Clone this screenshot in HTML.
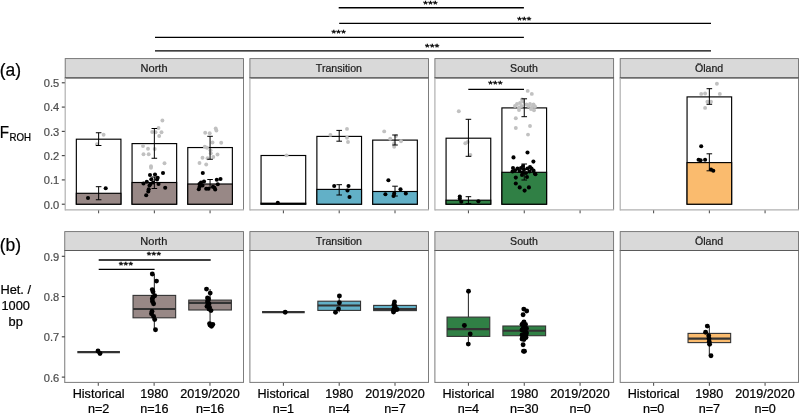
<!DOCTYPE html>
<html lang="en"><head><meta charset="utf-8"><title>Figure</title>
<style>html,body{margin:0;padding:0;background:#fff}body{width:800px;height:414px;overflow:hidden}svg{display:block;will-change:transform}</style>
</head><body>
<svg width="800" height="414" viewBox="0 0 800 414" font-family='"Liberation Sans", sans-serif'>
<rect width="800" height="414" fill="#fff"/>
<line x1="338.70" y1="7.70" x2="523.90" y2="7.70" stroke="#000" stroke-width="1.4" />
<text transform="translate(430.60 7.32) scale(1 0.8)" font-size="11.8" text-anchor="middle" letter-spacing="0.25" stroke="#000" stroke-width="0.45">***</text>
<line x1="339.20" y1="23.40" x2="711.00" y2="23.40" stroke="#000" stroke-width="1.4" />
<text transform="translate(524.40 23.02) scale(1 0.8)" font-size="11.8" text-anchor="middle" letter-spacing="0.25" stroke="#000" stroke-width="0.45">***</text>
<line x1="155.00" y1="37.40" x2="523.90" y2="37.40" stroke="#000" stroke-width="1.4" />
<text transform="translate(338.75 36.32) scale(1 0.8)" font-size="11.8" text-anchor="middle" letter-spacing="0.25" stroke="#000" stroke-width="0.45">***</text>
<line x1="155.00" y1="50.90" x2="711.00" y2="50.90" stroke="#000" stroke-width="1.4" />
<text transform="translate(432.30 49.62) scale(1 0.8)" font-size="11.8" text-anchor="middle" letter-spacing="0.25" stroke="#000" stroke-width="0.45">***</text>
<text x="-0.30" y="75.60" font-size="17.5" fill="#000" text-anchor="start" stroke="#000" stroke-width="0.2">(a)</text>
<text x="-0.30" y="251.30" font-size="17.5" fill="#000" text-anchor="start" stroke="#000" stroke-width="0.2">(b)</text>
<text transform="translate(-0.3 137.5) scale(1 1.045)" font-size="15.2" fill="#000" stroke="#000" stroke-width="0.22">F<tspan font-size="9.7" dy="3.6" dx="0.4">ROH</tspan></text>
<text x="15.70" y="294.30" font-size="12.8" fill="#000" text-anchor="middle" stroke="#000" stroke-width="0.22">Het. /</text>
<text x="15.70" y="310.10" font-size="12.8" fill="#000" text-anchor="middle" stroke="#000" stroke-width="0.22">1000</text>
<text x="15.70" y="325.90" font-size="12.8" fill="#000" text-anchor="middle" stroke="#000" stroke-width="0.22">bp</text>
<rect x="65.20" y="58.60" width="178.30" height="19.30" fill="#d9d9d9" stroke="#6e6e6e" stroke-width="0.9"/>
<line x1="64.75" y1="77.90" x2="243.95" y2="77.90" stroke="#5a5a5a" stroke-width="1.2" />
<line x1="243.50" y1="77.90" x2="243.50" y2="209.90" stroke="#6e6e6e" stroke-width="0.9" />
<line x1="65.20" y1="77.90" x2="65.20" y2="210.50" stroke="#b0b0b0" stroke-width="1.2" />
<line x1="65.20" y1="209.90" x2="243.95" y2="209.90" stroke="#b0b0b0" stroke-width="1.2" />
<text transform="translate(154.05 71.70) scale(1.04 1)" font-size="10.6" fill="#1a1a1a" text-anchor="middle" stroke="#1a1a1a" stroke-width="0.2">North</text>
<line x1="98.63" y1="210.40" x2="98.63" y2="213.30" stroke="#444" stroke-width="1.0" />
<line x1="154.35" y1="210.40" x2="154.35" y2="213.30" stroke="#444" stroke-width="1.0" />
<line x1="210.07" y1="210.40" x2="210.07" y2="213.30" stroke="#444" stroke-width="1.0" />
<rect x="64.75" y="231.60" width="178.75" height="18.90" fill="#d9d9d9" stroke="#6e6e6e" stroke-width="0.9"/>
<line x1="64.30" y1="250.50" x2="243.95" y2="250.50" stroke="#5a5a5a" stroke-width="1.2" />
<line x1="243.50" y1="250.50" x2="243.50" y2="382.40" stroke="#6e6e6e" stroke-width="0.9" />
<line x1="64.75" y1="250.50" x2="64.75" y2="382.90" stroke="#7a7a7a" stroke-width="1.0" />
<line x1="64.75" y1="382.40" x2="243.95" y2="382.40" stroke="#7a7a7a" stroke-width="1.0" />
<text transform="translate(153.82 244.50) scale(1.04 1)" font-size="10.6" fill="#1a1a1a" text-anchor="middle" stroke="#1a1a1a" stroke-width="0.2">North</text>
<line x1="98.27" y1="382.90" x2="98.27" y2="385.80" stroke="#444" stroke-width="1.0" />
<line x1="154.12" y1="382.90" x2="154.12" y2="385.80" stroke="#444" stroke-width="1.0" />
<line x1="209.98" y1="382.90" x2="209.98" y2="385.80" stroke="#444" stroke-width="1.0" />
<rect x="249.90" y="58.60" width="178.60" height="19.30" fill="#d9d9d9" stroke="#6e6e6e" stroke-width="0.9"/>
<line x1="249.45" y1="77.90" x2="428.95" y2="77.90" stroke="#5a5a5a" stroke-width="1.2" />
<line x1="428.50" y1="77.90" x2="428.50" y2="209.90" stroke="#6e6e6e" stroke-width="0.9" />
<line x1="249.90" y1="77.90" x2="249.90" y2="210.50" stroke="#b0b0b0" stroke-width="1.2" />
<line x1="249.90" y1="209.90" x2="428.95" y2="209.90" stroke="#b0b0b0" stroke-width="1.2" />
<text transform="translate(338.90 71.70) scale(1.0 1)" font-size="10.6" fill="#1a1a1a" text-anchor="middle" stroke="#1a1a1a" stroke-width="0.2">Transition</text>
<line x1="283.39" y1="210.40" x2="283.39" y2="213.30" stroke="#444" stroke-width="1.0" />
<line x1="339.20" y1="210.40" x2="339.20" y2="213.30" stroke="#444" stroke-width="1.0" />
<line x1="395.01" y1="210.40" x2="395.01" y2="213.30" stroke="#444" stroke-width="1.0" />
<rect x="249.90" y="231.60" width="178.60" height="18.90" fill="#d9d9d9" stroke="#6e6e6e" stroke-width="0.9"/>
<line x1="249.45" y1="250.50" x2="428.95" y2="250.50" stroke="#5a5a5a" stroke-width="1.2" />
<line x1="428.50" y1="250.50" x2="428.50" y2="382.40" stroke="#6e6e6e" stroke-width="0.9" />
<line x1="249.90" y1="250.50" x2="249.90" y2="382.90" stroke="#7a7a7a" stroke-width="1.0" />
<line x1="249.90" y1="382.40" x2="428.95" y2="382.40" stroke="#7a7a7a" stroke-width="1.0" />
<text transform="translate(338.90 244.50) scale(1.0 1)" font-size="10.6" fill="#1a1a1a" text-anchor="middle" stroke="#1a1a1a" stroke-width="0.2">Transition</text>
<line x1="283.39" y1="382.90" x2="283.39" y2="385.80" stroke="#444" stroke-width="1.0" />
<line x1="339.20" y1="382.90" x2="339.20" y2="385.80" stroke="#444" stroke-width="1.0" />
<line x1="395.01" y1="382.90" x2="395.01" y2="385.80" stroke="#444" stroke-width="1.0" />
<rect x="434.90" y="58.60" width="178.70" height="19.30" fill="#d9d9d9" stroke="#6e6e6e" stroke-width="0.9"/>
<line x1="434.45" y1="77.90" x2="614.05" y2="77.90" stroke="#5a5a5a" stroke-width="1.2" />
<line x1="613.60" y1="77.90" x2="613.60" y2="209.90" stroke="#6e6e6e" stroke-width="0.9" />
<line x1="434.90" y1="77.90" x2="434.90" y2="210.50" stroke="#b0b0b0" stroke-width="1.2" />
<line x1="434.90" y1="209.90" x2="614.05" y2="209.90" stroke="#b0b0b0" stroke-width="1.2" />
<text transform="translate(523.95 71.70) scale(1.0 1)" font-size="10.6" fill="#1a1a1a" text-anchor="middle" stroke="#1a1a1a" stroke-width="0.2">South</text>
<line x1="468.41" y1="210.40" x2="468.41" y2="213.30" stroke="#444" stroke-width="1.0" />
<line x1="524.25" y1="210.40" x2="524.25" y2="213.30" stroke="#444" stroke-width="1.0" />
<line x1="580.09" y1="210.40" x2="580.09" y2="213.30" stroke="#444" stroke-width="1.0" />
<rect x="434.90" y="231.60" width="178.70" height="18.90" fill="#d9d9d9" stroke="#6e6e6e" stroke-width="0.9"/>
<line x1="434.45" y1="250.50" x2="614.05" y2="250.50" stroke="#5a5a5a" stroke-width="1.2" />
<line x1="613.60" y1="250.50" x2="613.60" y2="382.40" stroke="#6e6e6e" stroke-width="0.9" />
<line x1="434.90" y1="250.50" x2="434.90" y2="382.90" stroke="#7a7a7a" stroke-width="1.0" />
<line x1="434.90" y1="382.40" x2="614.05" y2="382.40" stroke="#7a7a7a" stroke-width="1.0" />
<text transform="translate(523.95 244.50) scale(1.0 1)" font-size="10.6" fill="#1a1a1a" text-anchor="middle" stroke="#1a1a1a" stroke-width="0.2">South</text>
<line x1="468.41" y1="382.90" x2="468.41" y2="385.80" stroke="#444" stroke-width="1.0" />
<line x1="524.25" y1="382.90" x2="524.25" y2="385.80" stroke="#444" stroke-width="1.0" />
<line x1="580.09" y1="382.90" x2="580.09" y2="385.80" stroke="#444" stroke-width="1.0" />
<rect x="620.20" y="58.60" width="178.30" height="19.30" fill="#d9d9d9" stroke="#6e6e6e" stroke-width="0.9"/>
<line x1="619.75" y1="77.90" x2="798.95" y2="77.90" stroke="#5a5a5a" stroke-width="1.2" />
<line x1="798.50" y1="77.90" x2="798.50" y2="209.90" stroke="#6e6e6e" stroke-width="0.9" />
<line x1="620.20" y1="77.90" x2="620.20" y2="210.50" stroke="#b0b0b0" stroke-width="1.2" />
<line x1="620.20" y1="209.90" x2="798.95" y2="209.90" stroke="#b0b0b0" stroke-width="1.2" />
<text transform="translate(709.05 71.70) scale(1.0 1)" font-size="10.6" fill="#1a1a1a" text-anchor="middle" stroke="#1a1a1a" stroke-width="0.2">Öland</text>
<line x1="653.63" y1="210.40" x2="653.63" y2="213.30" stroke="#444" stroke-width="1.0" />
<line x1="709.35" y1="210.40" x2="709.35" y2="213.30" stroke="#444" stroke-width="1.0" />
<line x1="765.07" y1="210.40" x2="765.07" y2="213.30" stroke="#444" stroke-width="1.0" />
<rect x="620.20" y="231.60" width="178.30" height="18.90" fill="#d9d9d9" stroke="#6e6e6e" stroke-width="0.9"/>
<line x1="619.75" y1="250.50" x2="798.95" y2="250.50" stroke="#5a5a5a" stroke-width="1.2" />
<line x1="798.50" y1="250.50" x2="798.50" y2="382.40" stroke="#6e6e6e" stroke-width="0.9" />
<line x1="620.20" y1="250.50" x2="620.20" y2="382.90" stroke="#7a7a7a" stroke-width="1.0" />
<line x1="620.20" y1="382.40" x2="798.95" y2="382.40" stroke="#7a7a7a" stroke-width="1.0" />
<text transform="translate(709.05 244.50) scale(1.0 1)" font-size="10.6" fill="#1a1a1a" text-anchor="middle" stroke="#1a1a1a" stroke-width="0.2">Öland</text>
<line x1="653.63" y1="382.90" x2="653.63" y2="385.80" stroke="#444" stroke-width="1.0" />
<line x1="709.35" y1="382.90" x2="709.35" y2="385.80" stroke="#444" stroke-width="1.0" />
<line x1="765.07" y1="382.90" x2="765.07" y2="385.80" stroke="#444" stroke-width="1.0" />
<line x1="61.80" y1="204.20" x2="64.80" y2="204.20" stroke="#333" stroke-width="1.05" />
<text transform="translate(59.3 208.60) scale(1.09 1)" font-size="10.2" fill="#4d4d4d" stroke="#4d4d4d" stroke-width="0.2" text-anchor="end">0.0</text>
<line x1="61.80" y1="179.92" x2="64.80" y2="179.92" stroke="#333" stroke-width="1.05" />
<text transform="translate(59.3 184.32) scale(1.09 1)" font-size="10.2" fill="#4d4d4d" stroke="#4d4d4d" stroke-width="0.2" text-anchor="end">0.1</text>
<line x1="61.80" y1="155.64" x2="64.80" y2="155.64" stroke="#333" stroke-width="1.05" />
<text transform="translate(59.3 160.04) scale(1.09 1)" font-size="10.2" fill="#4d4d4d" stroke="#4d4d4d" stroke-width="0.2" text-anchor="end">0.2</text>
<line x1="61.80" y1="131.36" x2="64.80" y2="131.36" stroke="#333" stroke-width="1.05" />
<text transform="translate(59.3 135.76) scale(1.09 1)" font-size="10.2" fill="#4d4d4d" stroke="#4d4d4d" stroke-width="0.2" text-anchor="end">0.3</text>
<line x1="61.80" y1="107.08" x2="64.80" y2="107.08" stroke="#333" stroke-width="1.05" />
<text transform="translate(59.3 111.48) scale(1.09 1)" font-size="10.2" fill="#4d4d4d" stroke="#4d4d4d" stroke-width="0.2" text-anchor="end">0.4</text>
<line x1="61.80" y1="82.80" x2="64.80" y2="82.80" stroke="#333" stroke-width="1.05" />
<text transform="translate(59.3 87.20) scale(1.09 1)" font-size="10.2" fill="#4d4d4d" stroke="#4d4d4d" stroke-width="0.2" text-anchor="end">0.5</text>
<line x1="61.80" y1="377.10" x2="64.80" y2="377.10" stroke="#333" stroke-width="1.05" />
<text transform="translate(59.3 381.50) scale(1.09 1)" font-size="10.2" fill="#4d4d4d" stroke="#4d4d4d" stroke-width="0.2" text-anchor="end">0.6</text>
<line x1="61.80" y1="336.83" x2="64.80" y2="336.83" stroke="#333" stroke-width="1.05" />
<text transform="translate(59.3 341.23) scale(1.09 1)" font-size="10.2" fill="#4d4d4d" stroke="#4d4d4d" stroke-width="0.2" text-anchor="end">0.7</text>
<line x1="61.80" y1="296.56" x2="64.80" y2="296.56" stroke="#333" stroke-width="1.05" />
<text transform="translate(59.3 300.96) scale(1.09 1)" font-size="10.2" fill="#4d4d4d" stroke="#4d4d4d" stroke-width="0.2" text-anchor="end">0.8</text>
<line x1="61.80" y1="256.29" x2="64.80" y2="256.29" stroke="#333" stroke-width="1.05" />
<text transform="translate(59.3 260.69) scale(1.09 1)" font-size="10.2" fill="#4d4d4d" stroke="#4d4d4d" stroke-width="0.2" text-anchor="end">0.9</text>
<text x="98.63" y="397.70" font-size="12.6" fill="#000" text-anchor="middle" stroke="#000" stroke-width="0.22">Historical</text>
<text x="98.63" y="412.50" font-size="12.6" fill="#000" text-anchor="middle" stroke="#000" stroke-width="0.22">n=2</text>
<text x="154.35" y="397.70" font-size="12.6" fill="#000" text-anchor="middle" stroke="#000" stroke-width="0.22">1980</text>
<text x="154.35" y="412.50" font-size="12.6" fill="#000" text-anchor="middle" stroke="#000" stroke-width="0.22">n=16</text>
<text x="210.07" y="397.70" font-size="12.6" fill="#000" text-anchor="middle" stroke="#000" stroke-width="0.22">2019/2020</text>
<text x="210.07" y="412.50" font-size="12.6" fill="#000" text-anchor="middle" stroke="#000" stroke-width="0.22">n=16</text>
<text x="283.39" y="397.70" font-size="12.6" fill="#000" text-anchor="middle" stroke="#000" stroke-width="0.22">Historical</text>
<text x="283.39" y="412.50" font-size="12.6" fill="#000" text-anchor="middle" stroke="#000" stroke-width="0.22">n=1</text>
<text x="339.20" y="397.70" font-size="12.6" fill="#000" text-anchor="middle" stroke="#000" stroke-width="0.22">1980</text>
<text x="339.20" y="412.50" font-size="12.6" fill="#000" text-anchor="middle" stroke="#000" stroke-width="0.22">n=4</text>
<text x="395.01" y="397.70" font-size="12.6" fill="#000" text-anchor="middle" stroke="#000" stroke-width="0.22">2019/2020</text>
<text x="395.01" y="412.50" font-size="12.6" fill="#000" text-anchor="middle" stroke="#000" stroke-width="0.22">n=7</text>
<text x="468.41" y="397.70" font-size="12.6" fill="#000" text-anchor="middle" stroke="#000" stroke-width="0.22">Historical</text>
<text x="468.41" y="412.50" font-size="12.6" fill="#000" text-anchor="middle" stroke="#000" stroke-width="0.22">n=4</text>
<text x="524.25" y="397.70" font-size="12.6" fill="#000" text-anchor="middle" stroke="#000" stroke-width="0.22">1980</text>
<text x="524.25" y="412.50" font-size="12.6" fill="#000" text-anchor="middle" stroke="#000" stroke-width="0.22">n=30</text>
<text x="580.09" y="397.70" font-size="12.6" fill="#000" text-anchor="middle" stroke="#000" stroke-width="0.22">2019/2020</text>
<text x="580.09" y="412.50" font-size="12.6" fill="#000" text-anchor="middle" stroke="#000" stroke-width="0.22">n=0</text>
<text x="653.63" y="397.70" font-size="12.6" fill="#000" text-anchor="middle" stroke="#000" stroke-width="0.22">Historical</text>
<text x="653.63" y="412.50" font-size="12.6" fill="#000" text-anchor="middle" stroke="#000" stroke-width="0.22">n=0</text>
<text x="709.35" y="397.70" font-size="12.6" fill="#000" text-anchor="middle" stroke="#000" stroke-width="0.22">1980</text>
<text x="709.35" y="412.50" font-size="12.6" fill="#000" text-anchor="middle" stroke="#000" stroke-width="0.22">n=7</text>
<text x="765.07" y="397.70" font-size="12.6" fill="#000" text-anchor="middle" stroke="#000" stroke-width="0.22">2019/2020</text>
<text x="765.07" y="412.50" font-size="12.6" fill="#000" text-anchor="middle" stroke="#000" stroke-width="0.22">n=0</text>
<rect x="76.34" y="139.20" width="44.58" height="65.00" fill="#fff" stroke="#000" stroke-width="1.15"/>
<rect x="76.34" y="193.30" width="44.58" height="10.90" fill="#988886" stroke="#000" stroke-width="1.15"/>
<circle cx="103.6" cy="134.7" r="1.95" fill="#c1c1c1"/>
<circle cx="97.0" cy="144.3" r="1.95" fill="#c1c1c1"/>
<circle cx="88.0" cy="198.0" r="2.05" fill="#000"/>
<circle cx="105.7" cy="188.2" r="2.05" fill="#000"/>
<line x1="98.63" y1="132.75" x2="98.63" y2="145.50" stroke="#000" stroke-width="1.0" />
<line x1="95.83" y1="132.75" x2="101.43" y2="132.75" stroke="#000" stroke-width="1.0" />
<line x1="95.83" y1="145.50" x2="101.43" y2="145.50" stroke="#000" stroke-width="1.0" />
<line x1="98.63" y1="186.70" x2="98.63" y2="199.75" stroke="#000" stroke-width="1.0" />
<line x1="95.83" y1="186.70" x2="101.43" y2="186.70" stroke="#000" stroke-width="1.0" />
<line x1="95.83" y1="199.75" x2="101.43" y2="199.75" stroke="#000" stroke-width="1.0" />
<rect x="132.06" y="143.60" width="44.58" height="60.60" fill="#fff" stroke="#000" stroke-width="1.15"/>
<rect x="132.06" y="182.50" width="44.58" height="21.70" fill="#988886" stroke="#000" stroke-width="1.15"/>
<circle cx="162.4" cy="120.5" r="1.95" fill="#c1c1c1"/>
<circle cx="158.5" cy="128.0" r="1.95" fill="#c1c1c1"/>
<circle cx="152.2" cy="132.0" r="1.95" fill="#c1c1c1"/>
<circle cx="155.5" cy="132.3" r="1.95" fill="#c1c1c1"/>
<circle cx="161.5" cy="132.3" r="1.95" fill="#c1c1c1"/>
<circle cx="159.2" cy="136.0" r="1.95" fill="#c1c1c1"/>
<circle cx="143.0" cy="146.0" r="1.95" fill="#c1c1c1"/>
<circle cx="148.0" cy="148.8" r="1.95" fill="#c1c1c1"/>
<circle cx="154.7" cy="149.0" r="1.95" fill="#c1c1c1"/>
<circle cx="143.5" cy="154.2" r="1.95" fill="#c1c1c1"/>
<circle cx="148.7" cy="154.2" r="1.95" fill="#c1c1c1"/>
<circle cx="164.5" cy="163.3" r="1.95" fill="#c1c1c1"/>
<circle cx="151.0" cy="166.3" r="1.95" fill="#c1c1c1"/>
<circle cx="151.0" cy="167.8" r="1.95" fill="#c1c1c1"/>
<circle cx="163.0" cy="173.0" r="2.05" fill="#000"/>
<circle cx="150.0" cy="175.0" r="2.05" fill="#000"/>
<circle cx="155.0" cy="174.5" r="2.05" fill="#000"/>
<circle cx="157.7" cy="177.7" r="2.05" fill="#000"/>
<circle cx="151.3" cy="179.2" r="2.05" fill="#000"/>
<circle cx="157.0" cy="179.5" r="2.05" fill="#000"/>
<circle cx="146.8" cy="181.8" r="2.05" fill="#000"/>
<circle cx="143.5" cy="183.5" r="2.05" fill="#000"/>
<circle cx="150.5" cy="184.0" r="2.05" fill="#000"/>
<circle cx="158.5" cy="184.0" r="2.05" fill="#000"/>
<circle cx="149.5" cy="185.5" r="2.05" fill="#000"/>
<circle cx="165.2" cy="187.8" r="2.05" fill="#000"/>
<circle cx="148.7" cy="189.2" r="2.05" fill="#000"/>
<circle cx="148.3" cy="191.5" r="2.05" fill="#000"/>
<circle cx="146.2" cy="195.2" r="2.05" fill="#000"/>
<circle cx="153.2" cy="182.5" r="2.05" fill="#000"/>
<line x1="154.35" y1="128.50" x2="154.35" y2="158.25" stroke="#000" stroke-width="1.0" />
<line x1="151.55" y1="128.50" x2="157.15" y2="128.50" stroke="#000" stroke-width="1.0" />
<line x1="151.55" y1="158.25" x2="157.15" y2="158.25" stroke="#000" stroke-width="1.0" />
<line x1="154.35" y1="177.00" x2="154.35" y2="188.50" stroke="#000" stroke-width="1.0" />
<line x1="151.55" y1="177.00" x2="157.15" y2="177.00" stroke="#000" stroke-width="1.0" />
<line x1="151.55" y1="188.50" x2="157.15" y2="188.50" stroke="#000" stroke-width="1.0" />
<rect x="187.78" y="147.55" width="44.58" height="56.65" fill="#fff" stroke="#000" stroke-width="1.15"/>
<rect x="187.78" y="184.00" width="44.58" height="20.20" fill="#988886" stroke="#000" stroke-width="1.15"/>
<circle cx="215.7" cy="128.5" r="1.95" fill="#c1c1c1"/>
<circle cx="216.4" cy="130.5" r="1.95" fill="#c1c1c1"/>
<circle cx="205.2" cy="132.7" r="1.95" fill="#c1c1c1"/>
<circle cx="209.7" cy="133.3" r="1.95" fill="#c1c1c1"/>
<circle cx="212.5" cy="142.5" r="1.95" fill="#c1c1c1"/>
<circle cx="221.2" cy="142.8" r="1.95" fill="#c1c1c1"/>
<circle cx="204.8" cy="146.8" r="1.95" fill="#c1c1c1"/>
<circle cx="207.0" cy="147.7" r="1.95" fill="#c1c1c1"/>
<circle cx="210.5" cy="150.2" r="1.95" fill="#c1c1c1"/>
<circle cx="210.8" cy="153.2" r="1.95" fill="#c1c1c1"/>
<circle cx="217.5" cy="154.5" r="1.95" fill="#c1c1c1"/>
<circle cx="213.3" cy="157.0" r="1.95" fill="#c1c1c1"/>
<circle cx="202.5" cy="157.8" r="1.95" fill="#c1c1c1"/>
<circle cx="207.5" cy="158.2" r="1.95" fill="#c1c1c1"/>
<circle cx="199.5" cy="163.0" r="1.95" fill="#c1c1c1"/>
<circle cx="206.2" cy="164.5" r="1.95" fill="#c1c1c1"/>
<circle cx="202.8" cy="173.0" r="2.05" fill="#000"/>
<circle cx="220.5" cy="179.0" r="2.05" fill="#000"/>
<circle cx="216.8" cy="179.8" r="2.05" fill="#000"/>
<circle cx="204.0" cy="181.5" r="2.05" fill="#000"/>
<circle cx="201.0" cy="182.5" r="2.05" fill="#000"/>
<circle cx="199.5" cy="184.0" r="2.05" fill="#000"/>
<circle cx="217.8" cy="184.3" r="2.05" fill="#000"/>
<circle cx="202.5" cy="185.5" r="2.05" fill="#000"/>
<circle cx="199.5" cy="187.0" r="2.05" fill="#000"/>
<circle cx="213.0" cy="186.7" r="2.05" fill="#000"/>
<circle cx="206.2" cy="188.8" r="2.05" fill="#000"/>
<circle cx="208.5" cy="188.8" r="2.05" fill="#000"/>
<circle cx="198.8" cy="189.2" r="2.05" fill="#000"/>
<circle cx="215.2" cy="189.5" r="2.05" fill="#000"/>
<circle cx="214.5" cy="187.8" r="2.05" fill="#000"/>
<circle cx="200.2" cy="184.8" r="2.05" fill="#000"/>
<line x1="210.07" y1="136.30" x2="210.07" y2="159.25" stroke="#000" stroke-width="1.0" />
<line x1="207.27" y1="136.30" x2="212.87" y2="136.30" stroke="#000" stroke-width="1.0" />
<line x1="207.27" y1="159.25" x2="212.87" y2="159.25" stroke="#000" stroke-width="1.0" />
<line x1="210.07" y1="179.50" x2="210.07" y2="187.75" stroke="#000" stroke-width="1.0" />
<line x1="207.27" y1="179.50" x2="212.87" y2="179.50" stroke="#000" stroke-width="1.0" />
<line x1="207.27" y1="187.75" x2="212.87" y2="187.75" stroke="#000" stroke-width="1.0" />
<rect x="261.06" y="155.50" width="44.65" height="48.70" fill="#fff" stroke="#000" stroke-width="1.15"/>
<rect x="261.06" y="203.20" width="44.65" height="1.00" fill="#62b0c7" stroke="#000" stroke-width="1.15"/>
<circle cx="286.5" cy="155.4" r="1.95" fill="#c1c1c1"/>
<circle cx="277.8" cy="202.8" r="2.05" fill="#000"/>
<rect x="316.88" y="136.40" width="44.65" height="67.80" fill="#fff" stroke="#000" stroke-width="1.15"/>
<rect x="316.88" y="189.40" width="44.65" height="14.80" fill="#62b0c7" stroke="#000" stroke-width="1.15"/>
<circle cx="330.4" cy="134.9" r="1.95" fill="#c1c1c1"/>
<circle cx="347.0" cy="128.9" r="1.95" fill="#c1c1c1"/>
<circle cx="347.0" cy="137.7" r="1.95" fill="#c1c1c1"/>
<circle cx="348.0" cy="142.0" r="1.95" fill="#c1c1c1"/>
<circle cx="334.2" cy="186.0" r="2.05" fill="#000"/>
<circle cx="348.5" cy="186.0" r="2.05" fill="#000"/>
<circle cx="347.5" cy="190.5" r="2.05" fill="#000"/>
<circle cx="349.5" cy="197.0" r="2.05" fill="#000"/>
<line x1="339.20" y1="130.40" x2="339.20" y2="141.20" stroke="#000" stroke-width="1.0" />
<line x1="336.40" y1="130.40" x2="342.00" y2="130.40" stroke="#000" stroke-width="1.0" />
<line x1="336.40" y1="141.20" x2="342.00" y2="141.20" stroke="#000" stroke-width="1.0" />
<line x1="339.20" y1="184.70" x2="339.20" y2="195.00" stroke="#000" stroke-width="1.0" />
<line x1="336.40" y1="184.70" x2="342.00" y2="184.70" stroke="#000" stroke-width="1.0" />
<line x1="336.40" y1="195.00" x2="342.00" y2="195.00" stroke="#000" stroke-width="1.0" />
<rect x="372.69" y="140.10" width="44.65" height="64.10" fill="#fff" stroke="#000" stroke-width="1.15"/>
<rect x="372.69" y="191.50" width="44.65" height="12.70" fill="#62b0c7" stroke="#000" stroke-width="1.15"/>
<circle cx="384.2" cy="131.4" r="1.95" fill="#c1c1c1"/>
<circle cx="390.2" cy="138.7" r="1.95" fill="#c1c1c1"/>
<circle cx="396.0" cy="136.0" r="1.95" fill="#c1c1c1"/>
<circle cx="401.0" cy="141.2" r="1.95" fill="#c1c1c1"/>
<circle cx="394.2" cy="143.2" r="1.95" fill="#c1c1c1"/>
<circle cx="394.2" cy="146.7" r="1.95" fill="#c1c1c1"/>
<circle cx="388.4" cy="180.2" r="2.05" fill="#000"/>
<circle cx="400.5" cy="189.2" r="2.05" fill="#000"/>
<circle cx="385.4" cy="194.2" r="2.05" fill="#000"/>
<circle cx="394.2" cy="193.5" r="2.05" fill="#000"/>
<circle cx="393.5" cy="196.0" r="2.05" fill="#000"/>
<circle cx="405.8" cy="193.5" r="2.05" fill="#000"/>
<line x1="395.01" y1="135.00" x2="395.01" y2="145.00" stroke="#000" stroke-width="1.0" />
<line x1="392.21" y1="135.00" x2="397.81" y2="135.00" stroke="#000" stroke-width="1.0" />
<line x1="392.21" y1="145.00" x2="397.81" y2="145.00" stroke="#000" stroke-width="1.0" />
<line x1="395.01" y1="186.20" x2="395.01" y2="196.00" stroke="#000" stroke-width="1.0" />
<line x1="392.21" y1="186.20" x2="397.81" y2="186.20" stroke="#000" stroke-width="1.0" />
<line x1="392.21" y1="196.00" x2="397.81" y2="196.00" stroke="#000" stroke-width="1.0" />
<rect x="446.07" y="138.20" width="44.68" height="66.00" fill="#fff" stroke="#000" stroke-width="1.15"/>
<rect x="446.07" y="200.20" width="44.68" height="4.00" fill="#308045" stroke="#000" stroke-width="1.15"/>
<circle cx="458.8" cy="111.3" r="1.95" fill="#c1c1c1"/>
<circle cx="465.3" cy="143.2" r="1.95" fill="#c1c1c1"/>
<circle cx="467.8" cy="142.0" r="1.95" fill="#c1c1c1"/>
<circle cx="470.4" cy="155.0" r="1.95" fill="#c1c1c1"/>
<circle cx="459.8" cy="196.5" r="2.05" fill="#000"/>
<circle cx="459.8" cy="198.5" r="2.05" fill="#000"/>
<circle cx="461.3" cy="201.8" r="2.05" fill="#000"/>
<circle cx="478.4" cy="201.3" r="2.05" fill="#000"/>
<line x1="468.41" y1="119.30" x2="468.41" y2="156.30" stroke="#000" stroke-width="1.0" />
<line x1="465.61" y1="119.30" x2="471.21" y2="119.30" stroke="#000" stroke-width="1.0" />
<line x1="465.61" y1="156.30" x2="471.21" y2="156.30" stroke="#000" stroke-width="1.0" />
<line x1="468.41" y1="196.70" x2="468.41" y2="203.60" stroke="#000" stroke-width="1.0" />
<line x1="465.61" y1="196.70" x2="471.21" y2="196.70" stroke="#000" stroke-width="1.0" />
<line x1="465.61" y1="203.60" x2="471.21" y2="203.60" stroke="#000" stroke-width="1.0" />
<rect x="501.91" y="107.90" width="44.68" height="96.30" fill="#fff" stroke="#000" stroke-width="1.15"/>
<rect x="501.91" y="172.30" width="44.68" height="31.90" fill="#308045" stroke="#000" stroke-width="1.15"/>
<circle cx="527.7" cy="90.9" r="1.95" fill="#c1c1c1"/>
<circle cx="531.8" cy="93.9" r="1.95" fill="#c1c1c1"/>
<circle cx="519.0" cy="110.0" r="1.95" fill="#c1c1c1"/>
<circle cx="534.0" cy="110.3" r="1.95" fill="#c1c1c1"/>
<circle cx="515.0" cy="106.0" r="1.95" fill="#c1c1c1"/>
<circle cx="517.0" cy="104.0" r="1.95" fill="#c1c1c1"/>
<circle cx="519.0" cy="107.5" r="1.95" fill="#c1c1c1"/>
<circle cx="520.0" cy="103.0" r="1.95" fill="#c1c1c1"/>
<circle cx="521.5" cy="106.0" r="1.95" fill="#c1c1c1"/>
<circle cx="523.0" cy="101.5" r="1.95" fill="#c1c1c1"/>
<circle cx="526.5" cy="104.5" r="1.95" fill="#c1c1c1"/>
<circle cx="528.5" cy="106.0" r="1.95" fill="#c1c1c1"/>
<circle cx="530.0" cy="104.0" r="1.95" fill="#c1c1c1"/>
<circle cx="532.0" cy="107.0" r="1.95" fill="#c1c1c1"/>
<circle cx="533.5" cy="104.5" r="1.95" fill="#c1c1c1"/>
<circle cx="535.0" cy="106.5" r="1.95" fill="#c1c1c1"/>
<circle cx="522.0" cy="99.5" r="1.95" fill="#c1c1c1"/>
<circle cx="531.0" cy="109.0" r="1.95" fill="#c1c1c1"/>
<circle cx="515.8" cy="118.3" r="1.95" fill="#c1c1c1"/>
<circle cx="515.8" cy="128.0" r="1.95" fill="#c1c1c1"/>
<circle cx="530.0" cy="126.0" r="1.95" fill="#c1c1c1"/>
<circle cx="528.0" cy="134.6" r="1.95" fill="#c1c1c1"/>
<circle cx="513.5" cy="157.4" r="2.05" fill="#000"/>
<circle cx="527.5" cy="152.5" r="2.05" fill="#000"/>
<circle cx="533.4" cy="161.6" r="2.05" fill="#000"/>
<circle cx="513.0" cy="168.0" r="2.05" fill="#000"/>
<circle cx="515.0" cy="170.5" r="2.05" fill="#000"/>
<circle cx="517.5" cy="168.5" r="2.05" fill="#000"/>
<circle cx="519.5" cy="171.0" r="2.05" fill="#000"/>
<circle cx="521.0" cy="168.0" r="2.05" fill="#000"/>
<circle cx="522.5" cy="172.5" r="2.05" fill="#000"/>
<circle cx="524.0" cy="169.5" r="2.05" fill="#000"/>
<circle cx="526.0" cy="173.0" r="2.05" fill="#000"/>
<circle cx="527.5" cy="168.5" r="2.05" fill="#000"/>
<circle cx="529.5" cy="171.5" r="2.05" fill="#000"/>
<circle cx="531.5" cy="168.5" r="2.05" fill="#000"/>
<circle cx="533.5" cy="170.5" r="2.05" fill="#000"/>
<circle cx="535.0" cy="173.5" r="2.05" fill="#000"/>
<circle cx="512.5" cy="171.5" r="2.05" fill="#000"/>
<circle cx="523.0" cy="166.0" r="2.05" fill="#000"/>
<circle cx="530.0" cy="167.0" r="2.05" fill="#000"/>
<circle cx="515.8" cy="177.6" r="2.05" fill="#000"/>
<circle cx="535.4" cy="174.3" r="2.05" fill="#000"/>
<circle cx="515.8" cy="183.5" r="2.05" fill="#000"/>
<circle cx="519.7" cy="187.4" r="2.05" fill="#000"/>
<circle cx="524.6" cy="190.6" r="2.05" fill="#000"/>
<circle cx="528.9" cy="187.4" r="2.05" fill="#000"/>
<circle cx="522.0" cy="175.0" r="2.05" fill="#000"/>
<circle cx="527.0" cy="177.0" r="2.05" fill="#000"/>
<line x1="524.25" y1="98.80" x2="524.25" y2="116.70" stroke="#000" stroke-width="1.0" />
<line x1="521.45" y1="98.80" x2="527.05" y2="98.80" stroke="#000" stroke-width="1.0" />
<line x1="521.45" y1="116.70" x2="527.05" y2="116.70" stroke="#000" stroke-width="1.0" />
<line x1="524.25" y1="164.00" x2="524.25" y2="180.00" stroke="#000" stroke-width="1.0" />
<line x1="521.45" y1="164.00" x2="527.05" y2="164.00" stroke="#000" stroke-width="1.0" />
<line x1="521.45" y1="180.00" x2="527.05" y2="180.00" stroke="#000" stroke-width="1.0" />
<rect x="687.06" y="96.90" width="44.57" height="107.30" fill="#fff" stroke="#000" stroke-width="1.15"/>
<rect x="687.06" y="162.60" width="44.57" height="41.60" fill="#fabb6e" stroke="#000" stroke-width="1.15"/>
<circle cx="716.9" cy="83.8" r="1.95" fill="#c1c1c1"/>
<circle cx="701.2" cy="93.9" r="1.95" fill="#c1c1c1"/>
<circle cx="705.1" cy="93.5" r="1.95" fill="#c1c1c1"/>
<circle cx="719.8" cy="93.9" r="1.95" fill="#c1c1c1"/>
<circle cx="707.4" cy="101.7" r="1.95" fill="#c1c1c1"/>
<circle cx="711.0" cy="101.7" r="1.95" fill="#c1c1c1"/>
<circle cx="705.1" cy="107.9" r="1.95" fill="#c1c1c1"/>
<circle cx="701.2" cy="146.3" r="2.05" fill="#000"/>
<circle cx="698.6" cy="159.7" r="2.05" fill="#000"/>
<circle cx="700.6" cy="160.3" r="2.05" fill="#000"/>
<circle cx="705.1" cy="159.7" r="2.05" fill="#000"/>
<circle cx="711.0" cy="169.5" r="2.05" fill="#000"/>
<circle cx="713.3" cy="170.8" r="2.05" fill="#000"/>
<line x1="709.35" y1="88.70" x2="709.35" y2="104.30" stroke="#000" stroke-width="1.0" />
<line x1="706.55" y1="88.70" x2="712.15" y2="88.70" stroke="#000" stroke-width="1.0" />
<line x1="706.55" y1="104.30" x2="712.15" y2="104.30" stroke="#000" stroke-width="1.0" />
<line x1="709.35" y1="153.80" x2="709.35" y2="170.80" stroke="#000" stroke-width="1.0" />
<line x1="706.55" y1="153.80" x2="712.15" y2="153.80" stroke="#000" stroke-width="1.0" />
<line x1="706.55" y1="170.80" x2="712.15" y2="170.80" stroke="#000" stroke-width="1.0" />
<line x1="468.30" y1="89.40" x2="524.00" y2="89.40" stroke="#000" stroke-width="1.4" />
<text transform="translate(495.45 87.47) scale(1 0.8)" font-size="11.8" text-anchor="middle" letter-spacing="0.25" stroke="#000" stroke-width="0.45">***</text>
<line x1="77.32" y1="352.20" x2="119.94" y2="352.20" stroke="#333333" stroke-width="2.2" />
<line x1="154.35" y1="274.00" x2="154.35" y2="295.40" stroke="#333333" stroke-width="1.1" />
<line x1="154.35" y1="317.80" x2="154.35" y2="329.70" stroke="#333333" stroke-width="1.1" />
<rect x="133.04" y="295.40" width="42.62" height="22.40" fill="#988886" stroke="#333333" stroke-width="1.1"/>
<line x1="133.04" y1="309.00" x2="175.66" y2="309.00" stroke="#333333" stroke-width="2.1" />
<line x1="210.07" y1="289.10" x2="210.07" y2="300.10" stroke="#333333" stroke-width="1.1" />
<line x1="210.07" y1="310.00" x2="210.07" y2="326.30" stroke="#333333" stroke-width="1.1" />
<rect x="188.76" y="300.10" width="42.62" height="9.90" fill="#988886" stroke="#333333" stroke-width="1.1"/>
<line x1="188.76" y1="302.90" x2="231.38" y2="302.90" stroke="#333333" stroke-width="2.1" />
<line x1="262.04" y1="312.20" x2="304.74" y2="312.20" stroke="#333333" stroke-width="2.2" />
<line x1="339.20" y1="295.90" x2="339.20" y2="301.20" stroke="#333333" stroke-width="1.1" />
<line x1="339.20" y1="310.40" x2="339.20" y2="312.20" stroke="#333333" stroke-width="1.1" />
<rect x="317.85" y="301.20" width="42.70" height="9.20" fill="#62b0c7" stroke="#333333" stroke-width="1.1"/>
<line x1="317.85" y1="305.50" x2="360.55" y2="305.50" stroke="#333333" stroke-width="2.1" />
<line x1="395.01" y1="302.00" x2="395.01" y2="305.40" stroke="#333333" stroke-width="1.1" />
<line x1="395.01" y1="310.60" x2="395.01" y2="312.50" stroke="#333333" stroke-width="1.1" />
<rect x="373.66" y="305.40" width="42.70" height="5.20" fill="#62b0c7" stroke="#333333" stroke-width="1.1"/>
<line x1="373.66" y1="309.00" x2="416.36" y2="309.00" stroke="#333333" stroke-width="2.1" />
<line x1="468.41" y1="291.20" x2="468.41" y2="317.10" stroke="#333333" stroke-width="1.1" />
<line x1="468.41" y1="336.40" x2="468.41" y2="344.10" stroke="#333333" stroke-width="1.1" />
<rect x="447.05" y="317.10" width="42.72" height="19.30" fill="#308045" stroke="#333333" stroke-width="1.1"/>
<line x1="447.05" y1="329.10" x2="489.77" y2="329.10" stroke="#333333" stroke-width="2.1" />
<line x1="524.25" y1="321.00" x2="524.25" y2="326.00" stroke="#333333" stroke-width="1.1" />
<line x1="524.25" y1="335.70" x2="524.25" y2="340.50" stroke="#333333" stroke-width="1.1" />
<rect x="502.89" y="326.00" width="42.72" height="9.70" fill="#308045" stroke="#333333" stroke-width="1.1"/>
<line x1="502.89" y1="330.80" x2="545.61" y2="330.80" stroke="#333333" stroke-width="2.1" />
<line x1="709.35" y1="326.10" x2="709.35" y2="333.40" stroke="#333333" stroke-width="1.1" />
<line x1="709.35" y1="342.60" x2="709.35" y2="355.70" stroke="#333333" stroke-width="1.1" />
<rect x="688.04" y="333.40" width="42.62" height="9.20" fill="#fabb6e" stroke="#333333" stroke-width="1.1"/>
<line x1="688.04" y1="338.60" x2="730.66" y2="338.60" stroke="#333333" stroke-width="2.1" />
<circle cx="98.0" cy="351.0" r="2.45" fill="#000"/>
<circle cx="100.0" cy="353.5" r="2.45" fill="#000"/>
<circle cx="152.3" cy="274.0" r="2.45" fill="#000"/>
<circle cx="156.5" cy="281.1" r="2.45" fill="#000"/>
<circle cx="152.3" cy="289.6" r="2.45" fill="#000"/>
<circle cx="153.0" cy="291.8" r="2.45" fill="#000"/>
<circle cx="154.7" cy="295.7" r="2.45" fill="#000"/>
<circle cx="152.3" cy="299.0" r="2.45" fill="#000"/>
<circle cx="153.6" cy="303.7" r="2.45" fill="#000"/>
<circle cx="151.5" cy="313.8" r="2.45" fill="#000"/>
<circle cx="153.6" cy="316.5" r="2.45" fill="#000"/>
<circle cx="154.7" cy="319.6" r="2.45" fill="#000"/>
<circle cx="155.5" cy="329.7" r="2.45" fill="#000"/>
<circle cx="153.0" cy="297.0" r="2.45" fill="#000"/>
<circle cx="152.5" cy="301.5" r="2.45" fill="#000"/>
<circle cx="152.0" cy="311.5" r="2.45" fill="#000"/>
<circle cx="206.5" cy="289.1" r="2.45" fill="#000"/>
<circle cx="210.2" cy="293.1" r="2.45" fill="#000"/>
<circle cx="207.5" cy="297.9" r="2.45" fill="#000"/>
<circle cx="208.0" cy="300.5" r="2.45" fill="#000"/>
<circle cx="209.0" cy="303.7" r="2.45" fill="#000"/>
<circle cx="207.0" cy="306.4" r="2.45" fill="#000"/>
<circle cx="209.0" cy="309.0" r="2.45" fill="#000"/>
<circle cx="211.0" cy="310.6" r="2.45" fill="#000"/>
<circle cx="209.6" cy="323.6" r="2.45" fill="#000"/>
<circle cx="211.5" cy="326.3" r="2.45" fill="#000"/>
<circle cx="212.8" cy="324.5" r="2.45" fill="#000"/>
<circle cx="208.5" cy="299.0" r="2.45" fill="#000"/>
<circle cx="207.5" cy="302.0" r="2.45" fill="#000"/>
<circle cx="208.0" cy="305.0" r="2.45" fill="#000"/>
<circle cx="209.5" cy="307.5" r="2.45" fill="#000"/>
<circle cx="210.0" cy="325.0" r="2.45" fill="#000"/>
<circle cx="285.2" cy="312.2" r="2.45" fill="#000"/>
<circle cx="339.4" cy="295.9" r="2.45" fill="#000"/>
<circle cx="339.4" cy="302.7" r="2.45" fill="#000"/>
<circle cx="338.5" cy="308.9" r="2.45" fill="#000"/>
<circle cx="335.5" cy="312.2" r="2.45" fill="#000"/>
<circle cx="394.5" cy="302.0" r="2.45" fill="#000"/>
<circle cx="394.0" cy="304.5" r="2.45" fill="#000"/>
<circle cx="395.0" cy="306.5" r="2.45" fill="#000"/>
<circle cx="394.0" cy="308.5" r="2.45" fill="#000"/>
<circle cx="395.5" cy="309.5" r="2.45" fill="#000"/>
<circle cx="393.5" cy="310.5" r="2.45" fill="#000"/>
<circle cx="397.0" cy="309.5" r="2.45" fill="#000"/>
<circle cx="393.5" cy="312.0" r="2.45" fill="#000"/>
<circle cx="468.5" cy="291.2" r="2.45" fill="#000"/>
<circle cx="464.4" cy="325.5" r="2.45" fill="#000"/>
<circle cx="470.2" cy="334.0" r="2.45" fill="#000"/>
<circle cx="468.3" cy="344.1" r="2.45" fill="#000"/>
<circle cx="523.8" cy="309.1" r="2.45" fill="#000"/>
<circle cx="526.7" cy="311.0" r="2.45" fill="#000"/>
<circle cx="523.1" cy="314.7" r="2.45" fill="#000"/>
<circle cx="524.0" cy="322.0" r="2.45" fill="#000"/>
<circle cx="522.0" cy="324.5" r="2.45" fill="#000"/>
<circle cx="525.5" cy="324.5" r="2.45" fill="#000"/>
<circle cx="524.0" cy="327.5" r="2.45" fill="#000"/>
<circle cx="526.5" cy="328.5" r="2.45" fill="#000"/>
<circle cx="522.0" cy="330.0" r="2.45" fill="#000"/>
<circle cx="525.0" cy="331.0" r="2.45" fill="#000"/>
<circle cx="524.5" cy="333.5" r="2.45" fill="#000"/>
<circle cx="522.0" cy="335.0" r="2.45" fill="#000"/>
<circle cx="525.0" cy="336.0" r="2.45" fill="#000"/>
<circle cx="523.0" cy="337.5" r="2.45" fill="#000"/>
<circle cx="526.0" cy="337.5" r="2.45" fill="#000"/>
<circle cx="524.0" cy="339.5" r="2.45" fill="#000"/>
<circle cx="522.0" cy="339.0" r="2.45" fill="#000"/>
<circle cx="523.1" cy="344.8" r="2.45" fill="#000"/>
<circle cx="523.5" cy="351.3" r="2.45" fill="#000"/>
<circle cx="524.5" cy="351.3" r="2.45" fill="#000"/>
<circle cx="526.0" cy="335.0" r="2.45" fill="#000"/>
<circle cx="523.0" cy="329.0" r="2.45" fill="#000"/>
<circle cx="524.5" cy="325.5" r="2.45" fill="#000"/>
<circle cx="523.5" cy="323.0" r="2.45" fill="#000"/>
<circle cx="526.5" cy="333.0" r="2.45" fill="#000"/>
<circle cx="707.3" cy="326.1" r="2.45" fill="#000"/>
<circle cx="705.6" cy="332.2" r="2.45" fill="#000"/>
<circle cx="708.7" cy="335.7" r="2.45" fill="#000"/>
<circle cx="709.0" cy="338.6" r="2.45" fill="#000"/>
<circle cx="709.2" cy="341.7" r="2.45" fill="#000"/>
<circle cx="709.6" cy="344.3" r="2.45" fill="#000"/>
<circle cx="711.0" cy="355.7" r="2.45" fill="#000"/>
<line x1="98.70" y1="260.00" x2="210.70" y2="260.00" stroke="#000" stroke-width="1.4" />
<text transform="translate(154.00 258.22) scale(1 0.8)" font-size="11.8" text-anchor="middle" letter-spacing="0.25" stroke="#000" stroke-width="0.45">***</text>
<line x1="98.70" y1="269.40" x2="154.60" y2="269.40" stroke="#000" stroke-width="1.4" />
<text transform="translate(125.95 267.67) scale(1 0.8)" font-size="11.8" text-anchor="middle" letter-spacing="0.25" stroke="#000" stroke-width="0.45">***</text>
</svg>
</body></html>
